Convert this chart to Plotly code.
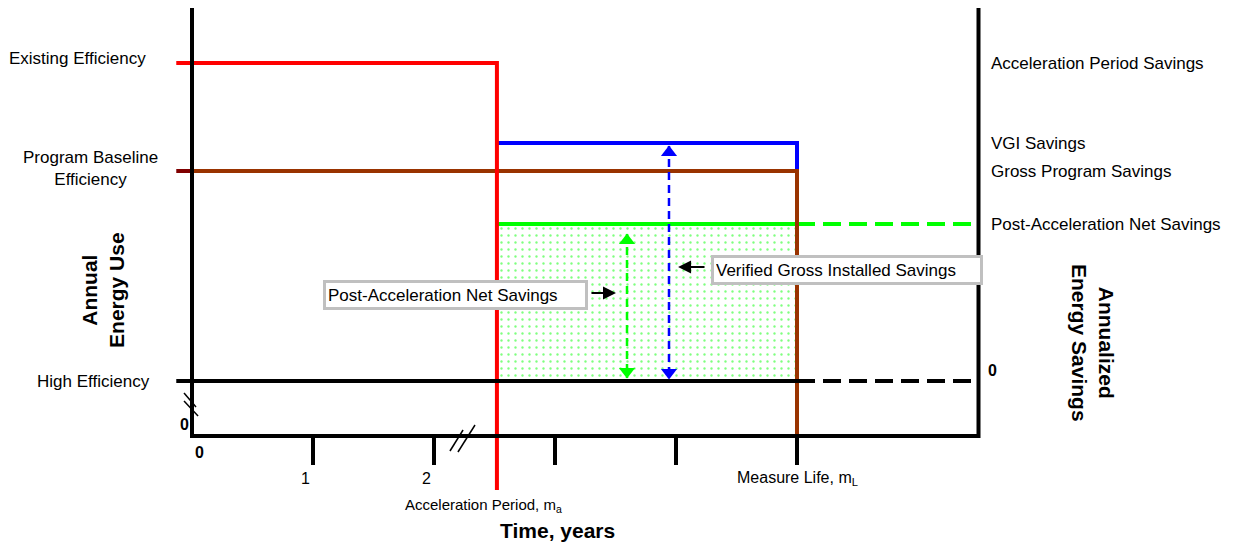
import plotly.graph_objects as go

# ---- Data (x: years on a broken time scale, y: relative annual energy use) ----
t_start = -0.13
t_zero = 0.0
t_accel = 2.52
t_life = 5.0
t_end = 6.5
tick_years = [1, 2, 3, 4, 5]
tick_labels = ["1", "2", "", "", ""]

e_existing = 3.18
e_vgi = 2.38
e_baseline = 2.10
e_post_net = 1.57
e_high = 0.0
e_floor = -0.55
e_top = 3.73
e_red_bottom = -1.09
e_tick_len = 0.29

green_arrow_x = 3.595
green_arrow_y = [1.47, 0.03]
blue_arrow_x = 3.942
blue_arrow_y = [2.35, 0.02]

left_labels = ["Existing Efficiency", "Program Baseline<br>Efficiency", "High Efficiency"]
right_labels = ["Acceleration Period Savings", "VGI Savings", "Gross Program Savings",
                "Post-Acceleration Net Savings"]

FONT = "Liberation Sans, Arial, Helvetica, sans-serif"
fig = go.Figure()


def line(xs, ys, color, width=4, dash="solid"):
    fig.add_trace(go.Scatter(x=xs, y=ys, mode="lines", hoverinfo="skip",
                             line=dict(color=color, width=width, dash=dash)))


# stippled net-savings area
fig.add_trace(go.Scatter(
    x=[t_accel, t_life, t_life, t_accel, t_accel],
    y=[e_high, e_high, e_post_net, e_post_net, e_high],
    fill="toself", mode="lines", line=dict(width=0, color="rgba(0,0,0,0)"),
    fillcolor="white",
    fillpattern=dict(shape=".", fgcolor="#00ff00", bgcolor="white", size=7, solidity=0.09),
    hoverinfo="skip"))

# level lines
line([t_accel, t_life], [e_post_net, e_post_net], "#00ff00")
line([t_life, t_end], [e_post_net, e_post_net], "#00ff00", dash="18px,8px")
line([t_accel, t_life, t_life], [e_vgi, e_vgi, e_baseline], "#0000ff")
line([t_start, t_zero], [e_baseline, e_baseline], "#800000")
line([t_zero, t_life, t_life], [e_baseline, e_baseline, e_floor], "#993300")
line([t_start, t_accel, t_accel], [e_existing, e_existing, e_red_bottom], "#ff0000")
line([t_start, t_life], [e_high, e_high], "black")
line([t_life, t_end], [e_high, e_high], "black", dash="18px,8px")

# dashed double arrows
line([green_arrow_x, green_arrow_x], green_arrow_y, "#00ff00", width=2.5, dash="8px,5px")
line([blue_arrow_x, blue_arrow_x], blue_arrow_y, "#0000ff", width=2.5, dash="8px,5px")
for ax_, ay_, col in [(green_arrow_x, green_arrow_y, "#00ff00"), (blue_arrow_x, blue_arrow_y, "#0000ff")]:
    fig.add_trace(go.Scatter(x=[ax_, ax_], y=[ay_[0] - 0.065, ay_[1] + 0.065], mode="markers",
                             marker=dict(symbol=["triangle-up", "triangle-down"], size=14,
                                         color=col, line=dict(width=0)),
                             hoverinfo="skip"))

# axes frame
line([t_zero, t_zero, t_end, t_end], [e_top, e_floor, e_floor, e_top], "black")
tx, ty = [], []
for t in tick_years:
    tx += [t, t, None]
    ty += [e_floor, e_floor - e_tick_len, None]
line(tx, ty, "black")

# axis breaks
line([-0.066, 0.033, None, -0.066, 0.05], [-0.12, -0.26, None, -0.20, -0.35], "black", width=1.5)
line([2.132, 2.24, None, 2.198, 2.339], [-0.70, -0.49, None, -0.71, -0.44], "black", width=1.5)

ann = []


def text(x, y, s, size=17, bold=False, xanchor="center", angle=0, **kw):
    if bold:
        s = "<b>" + s + "</b>"
    ann.append(dict(x=x, y=y, text=s, showarrow=False, xanchor=xanchor, yanchor="middle",
                    textangle=angle, font=dict(family=FONT, size=size, color="black"), **kw))


# left labels
text(-0.95, e_existing + 0.05, left_labels[0])
text(-0.843, e_baseline + 0.03, left_labels[1])
text(-0.818, e_high, left_labels[2])
# right labels
for lab, lev in zip(right_labels, [e_existing, e_vgi, e_baseline, e_post_net]):
    text(6.587, lev, lab, xanchor="left")
text(6.562, 0.11, "0", size=16, bold=True, xanchor="left")
text(-0.066, -0.43, "0", size=16, bold=True)
text(0.066, -0.71, "0", size=16, bold=True)
for t, lab in zip(tick_years, tick_labels):
    if lab:
        text(t - 0.06, -0.97, lab, size=16)
text(t_accel - 0.115, -1.24, "Acceleration Period, m<sub>a</sub>", size=15)
text(t_life + 0.008, -0.97, "Measure Life, m<sub>L</sub>", size=16)
text(3.017, -1.49, "Time, years", size=21, bold=True)
text(-0.736, 0.91, "Annual<br>Energy Use", size=21, bold=True, angle=-90)
text(7.446, 0.38, "Annualized<br>Energy Savings", size=21, bold=True, angle=90)

# boxed callouts
for x, y, s in [(2.178, 0.86, "Post-Acceleration Net Savings"),
                (5.413, 1.115, "Verified Gross Installed Savings")]:
    ann.append(dict(x=x, y=y, text=s, showarrow=False, xanchor="center", yanchor="middle",
                    align="left", bgcolor="white", bordercolor="#c0c0c0", borderwidth=3,
                    borderpad=2, width=255 if "Post" in s else 262, height=20,
                    font=dict(family=FONT, size=17, color="black")))

# callout arrows
for x, y, axx in [(3.504, 0.88, 3.289), (4.017, 1.14, 4.248)]:
    ann.append(dict(x=x, y=y, ax=axx, ay=y, axref="x", ayref="y", xref="x", yref="y",
                    text="", showarrow=True, arrowhead=2, arrowsize=1.3, arrowwidth=2,
                    arrowcolor="black"))

# page body has an 8px margin: the figure covers page pixels 8..1235 x 8..546
fig.update_layout(
    width=1227, height=538, margin=dict(l=0, r=0, t=0, b=0),
    paper_bgcolor="white", plot_bgcolor="white", showlegend=False,
    xaxis=dict(visible=False, range=[-1.5207, 8.6198], fixedrange=True),
    yaxis=dict(visible=False, range=[-1.65, 3.73], fixedrange=True),
    annotations=ann,
)

fig.write_html("out.html")
